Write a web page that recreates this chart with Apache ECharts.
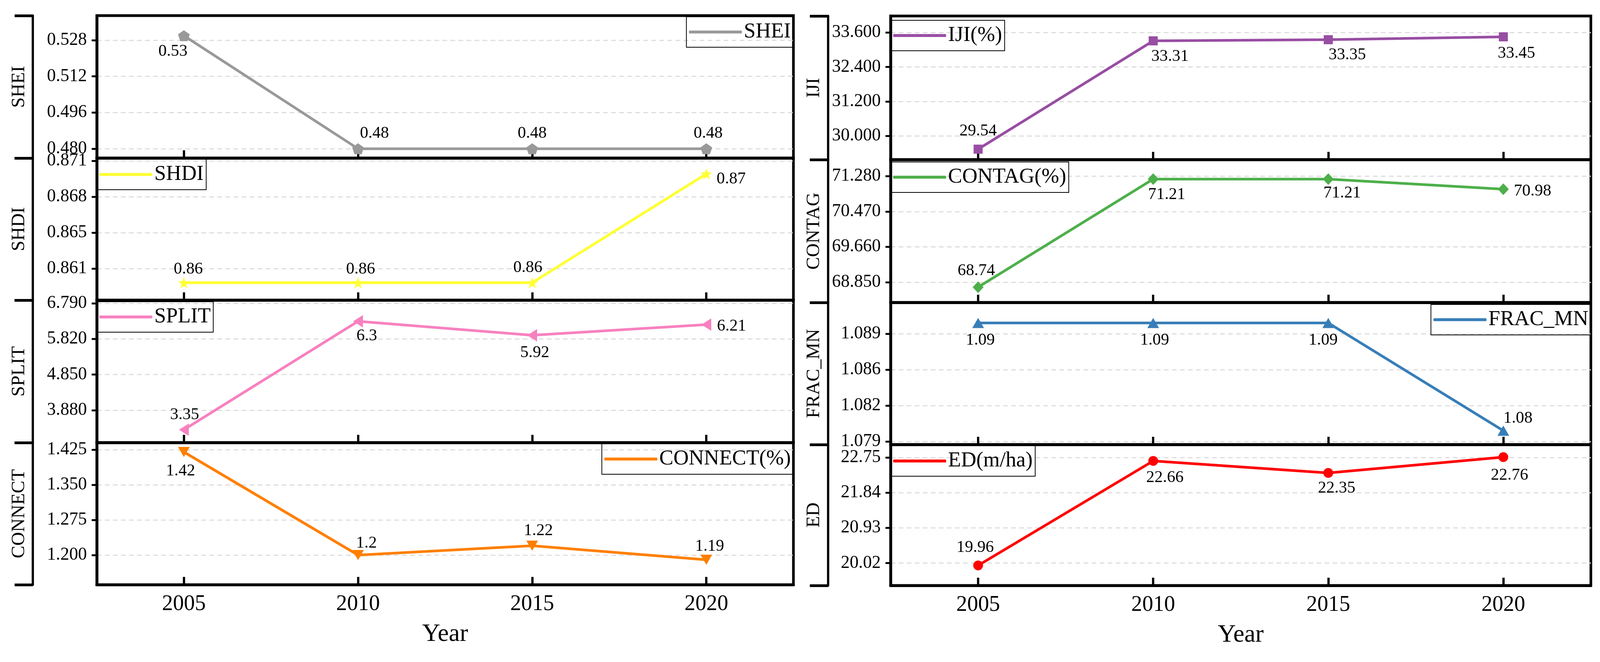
<!DOCTYPE html>
<html><head><meta charset="utf-8">
<script src="https://cdn.jsdelivr.net/npm/echarts@6/dist/echarts.min.js"></script>
<style>html,body{margin:0;padding:0;background:#fff;overflow:hidden}#c{width:100vw;height:100vh}</style>
</head><body><div id="c"></div>
<script>
// ---------- data ----------
const years = ['2005', '2010', '2015', '2020'];

const sheiValues    = [0.53, 0.48, 0.48, 0.48];
const shdiValues    = [0.86, 0.86, 0.86, 0.87];
const splitValues   = [3.35, 6.30, 5.92, 6.21];
const connectValues = [1.42, 1.20, 1.22, 1.19];
const ijiValues     = [29.54, 33.31, 33.35, 33.45];
const contagValues  = [68.74, 71.21, 71.21, 70.98];
const fracValues    = [1.09, 1.09, 1.09, 1.08];
const edValues      = [19.96, 22.66, 22.35, 22.76];

// y tick positions (labels are these values rounded)
const sheiTicks    = [0.480, 0.496, 0.512, 0.528];
const shdiTicks    = [0.8613, 0.8646, 0.8679, 0.8712];
const splitTicks   = [3.88, 4.85, 5.82, 6.79];
const connectTicks = [1.200, 1.275, 1.350, 1.425];
const ijiTicks     = [30.0, 31.2, 32.4, 33.6];
const contagTicks  = [68.85, 69.66, 70.47, 71.28];
const fracTicks    = [1.079, 1.08233, 1.08567, 1.089];
const edTicks      = [20.02, 20.93, 21.84, 22.75];

// ---------- styling / layout (designed for 4380 x 1696, scaled to the viewport) ----------
const W = window.innerWidth || 4380, H = window.innerHeight || 1696;
const SX = W / 4380, SY = H / 1696, S = Math.sqrt(SX * SY);
const X = v => v * SX, Y = v => v * SY, F = v => v * S;

const FONT = 'Liberation Serif';
const pentagon = 'path://M0,-10 L9.51,-3.09 L5.88,8.09 L-5.88,8.09 L-9.51,-3.09 Z';
const star = 'path://M0,-10 L2.35,-3.24 L9.51,-3.09 L3.8,1.24 L5.88,8.09 L0,4 L-5.88,8.09 L-3.8,1.24 L-9.51,-3.09 L-2.35,-3.24 Z';

const colLeft  = [265, 2438];
const colWidth = [1907, 1917];
const rowTop   = [[40, 405, 769, 1134], [41, 409, 775, 1139]];
const rowH     = [[365, 364, 365, 364], [368, 366, 364, 361]];
const bracketOffset = [175, 171];

const panels = [
  {title:'SHEI', legend:'SHEI', values:sheiValues, ticks:sheiTicks, dec:3, min:0.47586, max:0.53888,
   color:'#999999', symbol:pentagon, size:[31,29], rotate:0, col:0, row:0,
   offsets:[[-30,40],[45,-39],[0,-39],[5,-39]], legendPos:{right:2208, top:43}},
  {title:'SHDI', legend:'SHDI', values:shdiValues, ticks:shdiTicks, dec:3, min:0.858395, max:0.87145,
   color:'#FFFF33', symbol:star, size:[31,30], rotate:0, col:0, row:1,
   offsets:[[12,-34],[7,-34],[-12,-38],[68,13]], legendPos:{left:265, top:408}},
  {title:'SPLIT', legend:'SPLIT', values:splitValues, ticks:splitTicks, dec:3, min:2.9985, max:6.875,
   color:'#F781BF', symbol:'triangle', size:[33,26], rotate:90, col:0, row:2,
   offsets:[[2,-38],[24,38],[7,45],[69,4]], legendPos:{left:265, top:773}},
  {title:'CONNECT', legend:'CONNECT(%)', values:connectValues, ticks:connectTicks, dec:3, min:1.1367, max:1.44,
   color:'#FF7F00', symbol:'triangle', size:[31,27], rotate:180, col:0, row:3,
   offsets:[[-9,49],[23,-30],[17,-38],[9,-34]], legendPos:{right:2208, top:1137}},
  {title:'IJI', legend:'IJI(%)', values:ijiValues, ticks:ijiTicks, dec:3, min:29.175, max:34.175,
   color:'#984EA3', symbol:'rect', size:[24,24], rotate:0, col:1, row:0,
   offsets:[[0,-46],[46,40],[52,39],[36,42]], legendPos:{left:2438, top:52}},
  {title:'CONTAG', legend:'CONTAG(%)', values:contagValues, ticks:contagTicks, dec:3, min:68.389, max:71.655,
   color:'#4DAF4A', symbol:'diamond', size:[29,31], rotate:0, col:1, row:1,
   offsets:[[-5,-42],[37,40],[38,36],[80,5]], legendPos:{left:2438, top:415}},
  {title:'FRAC_MN', legend:'FRAC_MN', values:fracValues, ticks:fracTicks, dec:3, min:1.07871, max:1.0919,
   color:'#377EB8', symbol:'triangle', size:[31,27], rotate:0, col:1, row:2,
   offsets:[[6,44],[4,44],[-14,44],[40,-32]], legendPos:{right:25, top:780}},
  {title:'ED', legend:'ED(m/ha)', values:edValues, ticks:edTicks, dec:2, min:19.441, max:23.083,
   color:'#FF0000', symbol:'circle', size:[26,26], rotate:0, col:1, row:3,
   offsets:[[-8,-46],[32,43],[23,39],[17,47]], legendPos:{left:2438, top:1142}}
];

const grids = [], xAxes = [], yAxes = [], series = [], legends = [];
panels.forEach((p, i) => {
  const bottom = p.row === 3;
  grids.push({
    left: X(colLeft[p.col]), width: X(colWidth[p.col]),
    top: Y(rowTop[p.col][p.row]), height: Y(rowH[p.col][p.row]),
    show: true, borderColor: '#000', borderWidth: F(7), backgroundColor: 'transparent',
    containLabel: false, outerBoundsMode: 'none'
  });
  xAxes.push({
    type: 'category', gridIndex: i, data: years, boundaryGap: true,
    axisLine: {show: true, lineStyle: {color: '#000', width: F(7)}},
    axisTick: {show: true, inside: true, alignWithLabel: true, length: Y(20), lineStyle: {color: '#000', width: F(6)}},
    axisLabel: {show: bottom, fontFamily: FONT, fontSize: F(58), color: '#000', margin: Y(22)},
    splitLine: {show: false},
    name: bottom ? 'Year' : '', nameLocation: 'middle', nameGap: Y(95),
    nameTextStyle: {fontFamily: FONT, fontSize: F(66), color: '#000'}
  });
  yAxes.push({
    type: 'value', gridIndex: i, position: 'left', min: p.min, max: p.max,
    axisLine: {show: true, lineStyle: {color: '#000', width: F(7)}},
    axisTick: {show: true, inside: false, length: X(14), customValues: p.ticks, lineStyle: {color: '#000', width: F(5)}},
    axisLabel: {show: true, customValues: p.ticks, margin: X(27), fontFamily: FONT, fontSize: F(47), color: '#000',
                formatter: v => Number(v).toFixed(p.dec)},
    splitLine: {show: true, lineStyle: {color: '#dedede', width: F(3), type: [X(13), X(9)]}}
  });
  yAxes.push({
    type: 'value', gridIndex: i, position: 'left', offset: X(bracketOffset[p.col]), min: 0, max: 1, interval: 1,
    axisLine: {show: true, lineStyle: {color: '#000', width: F(6)}},
    axisTick: {show: true, inside: false, length: X(50), lineStyle: {color: '#000', width: F(7)}},
    axisLabel: {show: false}, splitLine: {show: false},
    name: p.title, nameLocation: 'middle', nameRotate: 90, nameGap: X(12),
    nameTextStyle: {fontFamily: FONT, fontSize: F(50), color: '#000'}
  });
  series.push({
    name: p.legend, type: 'line', xAxisIndex: i, yAxisIndex: 2 * i,
    data: p.values.map((v, j) => ({value: v, label: {offset: [X(p.offsets[j][0]), Y(p.offsets[j][1])]}})),
    symbol: p.symbol, symbolSize: [F(p.size[0]), F(p.size[1])], symbolRotate: p.rotate, showAllSymbol: true,
    lineStyle: {color: p.color, width: F(7)}, itemStyle: {color: p.color},
    label: {show: true, position: 'inside', formatter: d => String(d.value),
            fontFamily: FONT, fontSize: F(44), color: '#000'},
    emphasis: {disabled: true}, z: 3, clip: false
  });
  const pos = {};
  Object.keys(p.legendPos).forEach(k => {
    pos[k] = (k === 'top') ? Y(p.legendPos[k]) : X(p.legendPos[k]);
  });
  legends.push(Object.assign({
    data: [p.legend], selectedMode: false, orient: 'horizontal',
    itemWidth: X(145), itemHeight: F(8), icon: 'roundRect',
    padding: [Y(12), X(7), Y(12), X(7)], borderColor: '#000', borderWidth: F(2), borderRadius: 0,
    textStyle: {fontFamily: FONT, fontSize: F(56), color: '#000'}
  }, pos));
});

const chart = echarts.init(document.getElementById('c'), null, {renderer: 'canvas'});
chart.setOption({
  animation: false,
  backgroundColor: '#fff',
  grid: grids, xAxis: xAxes, yAxis: yAxes, series: series, legend: legends,
  tooltip: {show: false}
});
</script></body></html>
